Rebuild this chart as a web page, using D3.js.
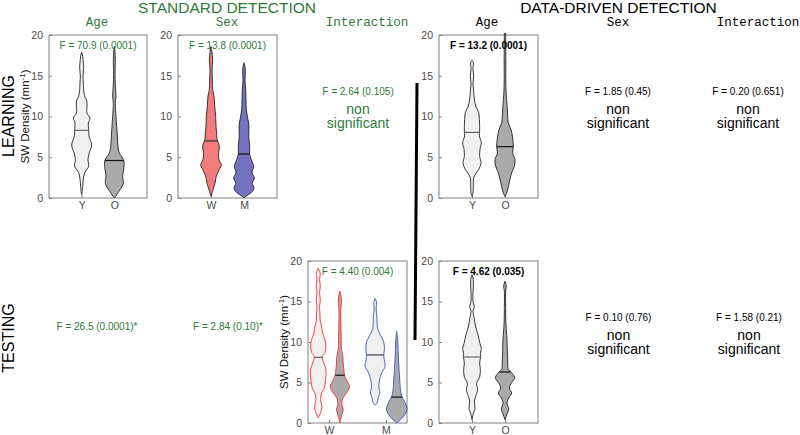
<!DOCTYPE html>
<html><head><meta charset="utf-8">
<script src="https://cdn.jsdelivr.net/npm/d3@7"></script>
<style>body{margin:0;background:#fff;}svg{display:block;font-family:"Liberation Sans",Arial,Helvetica,sans-serif;}</style>
</head><body>
<svg id="chart" width="800" height="435"></svg>
<script>
// ---------- DATA ----------
const yTicks = [0, 5, 10, 15, 20];
const ageCats = ["Y", "O"];
const sexCats = ["W", "M"];
// violin profiles: [SW density value, relative kernel density]
const lsAgeY = [[17.9,0],[17.4,6],[16.6,10],[16.0,12],[15.0,8],[14.1,10],[12.9,14],[12.3,22],[12.0,30],[11.3,32],[10.4,32],[9.8,50],[9.2,40],[8.4,42],[7.6,44],[6.5,60],[5.5,45],[4.7,38],[3.9,42],[3.1,18],[2.3,10],[1.4,6],[0.6,2],[0.4,0]];
const lsAgeO = [[18.6,0],[18.2,3],[16.6,6],[15.0,4],[13.3,8],[12.5,10],[11.6,6],[10.0,10],[8.8,14],[7.6,18],[6.3,22],[5.5,30],[4.9,50],[4.5,58],[3.5,56],[2.7,50],[1.8,54],[1.2,40],[0.6,20],[0.2,8],[0,0]];
const lsSexW = [[18.6,0],[18.0,5],[16.9,10],[15.8,6],[14.6,8],[13.3,10],[12.5,18],[11.3,22],[10.0,28],[8.8,30],[8.0,34],[7.2,36],[6.4,50],[5.6,46],[4.7,48],[4.1,62],[3.5,50],[2.7,32],[1.8,24],[1.0,12],[0.2,0]];
const lsSexM = [[16.6,0],[15.8,8],[14.5,6],[13.3,10],[12.1,12],[10.8,14],[9.6,24],[8.8,30],[7.6,28],[6.5,34],[5.4,34],[4.7,44],[3.9,58],[3.1,48],[2.5,62],[1.8,50],[1.2,60],[0.6,40],[0.2,10],[0,0]];
const ldAgeY = [[16.9,0],[16.6,8],[15.8,6],[15.0,10],[14.1,6],[13.1,10],[12.1,14],[11.3,22],[10.5,40],[9.6,44],[8.8,46],[8.2,46],[7.6,44],[6.8,56],[6.0,48],[5.1,46],[4.3,54],[3.5,40],[3.1,26],[2.5,10],[1.7,8],[0.6,6],[0.2,0]];
const ldAgeO = [[20.2,4],[17.0,5],[14.0,5],[12.5,8],[10.8,14],[10.0,16],[9.2,20],[8.4,36],[7.6,44],[6.3,50],[5.5,46],[4.7,60],[3.9,56],[3.1,40],[2.3,30],[1.4,20],[0.6,10],[0.2,0]];
const tiWY = [[19.1,0],[18.5,12],[17.7,8],[16.9,12],[16.1,8],[15.2,12],[14.4,8],[13.6,10],[12.6,12],[11.9,20],[11.1,26],[10.3,40],[9.5,46],[8.7,40],[8.2,24],[7.6,30],[6.6,46],[5.3,44],[4.3,36],[3.7,20],[2.9,14],[2.0,22],[1.4,16],[0.8,4],[0.6,0]];
const tiWO = [[16.3,0],[15.7,6],[14.9,10],[14.1,6],[12.3,6],[10.7,8],[9.1,10],[8.2,18],[7.4,20],[6.6,24],[5.9,28],[5.3,40],[4.5,58],[3.7,40],[3.1,18],[2.3,12],[1.7,20],[1.0,12],[0.4,4],[0,0]];
const tiMY = [[15.4,0],[14.9,8],[14.1,6],[13.2,10],[12.3,12],[11.7,14],[10.9,30],[10.1,50],[9.3,56],[8.4,52],[7.6,56],[7.0,60],[6.2,40],[5.3,26],[4.5,22],[3.7,28],[3.1,18],[2.5,12],[2.2,0]];
const tiMO = [[11.3,0],[10.3,6],[9.1,8],[7.9,10],[6.6,14],[5.3,18],[4.1,22],[3.3,30],[2.5,50],[1.7,62],[0.9,44],[0.2,12],[0,0]];
const tdAgeY = [[18.3,0],[17.9,6],[16.9,8],[16.1,6],[15.0,6],[14.4,14],[13.8,6],[13.0,12],[12.3,18],[11.7,24],[10.9,36],[9.8,48],[9.2,56],[8.6,50],[8.2,52],[7.4,46],[6.6,50],[5.7,46],[4.9,28],[4.1,34],[3.3,22],[2.7,14],[1.8,18],[1.2,8],[0.6,2],[0.4,0]];
const tdAgeO = [[17.5,0],[16.9,8],[16.3,4],[14.0,4],[12.5,5],[11.5,8],[10.3,12],[9.1,14],[7.9,16],[6.6,20],[6.4,30],[5.6,58],[5.0,40],[4.3,26],[3.7,40],[3.1,22],[2.5,12],[1.7,22],[1.0,10],[0.4,0]];
// medians
const lsAgeMedians = [8.3, 4.6];
const lsSexMedians = [7.0, 5.4];
const ldAgeMedians = [8.05, 6.3];
const tiMedians = [8.1, 5.9, 8.4, 3.2];
const tdAgeMedians = [8.15, 6.3];
// statistics text
const learnStats = ["F = 70.9 (0.0001)", "F = 13.8 (0.0001)", "F = 2.64 (0.105)", "F = 13.2 (0.0001)", "F = 1.85 (0.45)", "F = 0.20 (0.651)"];
const testStats = ["F = 26.5 (0.0001)*", "F = 2.84 (0.10)*", "F = 4.40 (0.004)", "F = 4.62 (0.035)", "F = 0.10 (0.76)", "F = 1.58 (0.21)"];
const factorTitles = ["Age", "Sex", "Interaction"];

// ---------- STYLE ----------
const GREEN = "#2f7a3a";
const LIGHT = "#f0f0f0", DARK = "#aaaaaa", RED = "#f27b7b", BLUE = "#7373c0";
const svg = d3.select("#chart");
const widthScale = d3.scaleLinear().domain([0, 60]).range([0, 10]);

function interpW(profile, v) {
  for (let i = 0; i < profile.length - 1; i++) {
    const a = profile[i], b = profile[i + 1];
    if ((v <= a[0] && v >= b[0])) {
      const t = (a[0] - v) / (a[0] - b[0]);
      return a[1] + t * (b[1] - a[1]);
    }
  }
  return 0;
}

function panel(cfg) {
  const g = svg.append("g");
  const y = d3.scaleLinear().domain([0, 20]).range([cfg.bottom, cfg.top]);
  const x = d3.scaleLinear().domain(cfg.xDomain).range([cfg.left, cfg.right]);
  g.append("rect").attr("x", cfg.left).attr("y", cfg.top)
    .attr("width", cfg.right - cfg.left).attr("height", cfg.bottom - cfg.top)
    .attr("fill", "none").attr("stroke", "#808080").attr("stroke-width", 1);
  const ya = g.append("g").attr("transform", `translate(${cfg.left},0)`)
    .call(d3.axisLeft(y).tickValues(yTicks).tickSize(-3).tickPadding(6));
  const xa = g.append("g").attr("transform", `translate(0,${cfg.bottom})`)
    .call(d3.axisBottom(x).tickValues(cfg.xTicks).tickFormat((d, i) => cfg.xLabels[i]).tickSize(-3).tickPadding(3.5));
  [ya, xa].forEach(a => {
    a.select(".domain").remove();
    a.selectAll("line").attr("stroke", "#808080");
    a.selectAll("text").attr("font-size", 10.5).attr("fill", "#4a4a4a")
      .attr("font-family", '"Liberation Sans",Arial,sans-serif');
  });
  cfg.violins.forEach((vd, i) => {
    const cx = x(vd.pos);
    const area = d3.area()
      .y(d => y(d[0]))
      .x0(d => cx - widthScale(d[1]))
      .x1(d => cx + widthScale(d[1]))
      .curve(d3.curveCatmullRom.alpha(0.5));
    g.append("path").datum(vd.profile).attr("d", area)
      .attr("fill", vd.fill).attr("stroke", vd.stroke).attr("stroke-width", 0.9);
    const hw = widthScale(interpW(vd.profile, vd.median));
    g.append("line").attr("x1", cx - hw).attr("x2", cx + hw)
      .attr("y1", y(vd.median)).attr("y2", y(vd.median))
      .attr("stroke", vd.medColor).attr("stroke-width", 1.2);
  });
  g.append("text").attr("x", (cfg.left + cfg.right) / 2 + (cfg.statDx || 0)).attr("y", cfg.top + 14)
    .attr("text-anchor", "middle").attr("font-size", 10)
    .attr("font-weight", cfg.bold ? "bold" : "normal")
    .attr("fill", cfg.statColor).text(cfg.stat);
  if (cfg.ylabel) {
    const t = g.append("text")
      .attr("transform", `translate(${cfg.left - 20},${(cfg.top + cfg.bottom) / 2}) rotate(-90)`)
      .attr("text-anchor", "middle").attr("font-size", 11.5).attr("fill", "#111");
    t.append("tspan").text("SW Density (mn");
    t.append("tspan").attr("font-size", 8).attr("dy", -4.5).text("-1");
    t.append("tspan").attr("dy", 4.5).text(")");
  }
}

// Learning, standard Age
panel({left: 49, right: 147, top: 35, bottom: 198, xDomain: [0, 3], xTicks: [1, 2], xLabels: ageCats,
  violins: [
    {pos: 1, profile: lsAgeY, fill: LIGHT, stroke: "#222", median: lsAgeMedians[0], medColor: "#666"},
    {pos: 2, profile: lsAgeO, fill: DARK, stroke: "#222", median: lsAgeMedians[1], medColor: "#111"}],
  stat: learnStats[0], statColor: GREEN, ylabel: true});
// Learning, standard Sex
panel({left: 178, right: 277, top: 35, bottom: 198, xDomain: [0, 3], xTicks: [1, 2], xLabels: sexCats,
  violins: [
    {pos: 1, profile: lsSexW, fill: RED, stroke: "#222", median: lsSexMedians[0], medColor: "#333"},
    {pos: 2, profile: lsSexM, fill: BLUE, stroke: "#222", median: lsSexMedians[1], medColor: "#111"}],
  stat: learnStats[1], statColor: GREEN});
// Learning, data-driven Age
panel({left: 439, right: 538, top: 35, bottom: 198, xDomain: [0, 3], xTicks: [1, 2], xLabels: ageCats,
  violins: [
    {pos: 1, profile: ldAgeY, fill: LIGHT, stroke: "#222", median: ldAgeMedians[0], medColor: "#666"},
    {pos: 2, profile: ldAgeO, fill: DARK, stroke: "#222", median: ldAgeMedians[1], medColor: "#111"}],
  stat: learnStats[3], statColor: "#000", bold: true});
// Testing, standard Interaction
panel({left: 308, right: 407, top: 261, bottom: 423, xDomain: [0.63, 2.37], xTicks: [1, 2], xLabels: sexCats,
  violins: [
    {pos: 0.81, profile: tiWY, fill: LIGHT, stroke: "#ff2a2a", median: tiMedians[0], medColor: "#666"},
    {pos: 1.19, profile: tiWO, fill: DARK, stroke: "#ff2a2a", median: tiMedians[1], medColor: "#111"},
    {pos: 1.81, profile: tiMY, fill: LIGHT, stroke: "#3a56c0", median: tiMedians[2], medColor: "#444"},
    {pos: 2.19, profile: tiMO, fill: DARK, stroke: "#3a56c0", median: tiMedians[3], medColor: "#111"}],
  stat: testStats[2], statColor: GREEN, ylabel: true});
// Testing, data-driven Age
panel({left: 439, right: 538, top: 261, bottom: 423, xDomain: [0, 3], xTicks: [1, 2], xLabels: ageCats,
  violins: [
    {pos: 1, profile: tdAgeY, fill: LIGHT, stroke: "#222", median: tdAgeMedians[0], medColor: "#666"},
    {pos: 2, profile: tdAgeO, fill: DARK, stroke: "#222", median: tdAgeMedians[1], medColor: "#111"}],
  stat: testStats[3], statColor: "#000", bold: true});

// ---------- TITLES & TEXT ----------
function txt(x, y, s, size, color, opts = {}) {
  const t = svg.append("text").attr("x", x).attr("y", y).attr("text-anchor", "middle")
    .attr("font-size", size).attr("fill", color).text(s);
  if (opts.mono) t.attr("font-family", '"Liberation Mono","Courier New",monospace');
  if (opts.rotate) t.attr("transform", `rotate(-90,${x},${y})`);
  return t;
}
txt(227, 12.5, "STANDARD DETECTION", 15.5, GREEN);
txt(618.5, 12.5, "DATA-DRIVEN DETECTION", 15.5, "#000");
const stdCols = [97, 227, 367], ddCols = [487, 618, 758];
factorTitles.forEach((f, i) => {
  txt(stdCols[i], 26, f, 12.5, GREEN, {mono: true});
  txt(ddCols[i], 26, f, 12.5, "#000", {mono: true});
});
txt(13.5, 116, "LEARNING", 16, "#000", {rotate: true});
txt(13.5, 338, "TESTING", 16, "#000", {rotate: true});

// non-significant blocks
function nonsig(x, yF, stat, color) {
  txt(x, yF, stat, 10, color);
  txt(x, yF + 19, "non", 14, color);
  txt(x, yF + 33, "significant", 14, color);
}
nonsig(358, 95, learnStats[2], GREEN);
nonsig(618, 95, learnStats[4], "#000");
nonsig(748, 95, learnStats[5], "#000");
nonsig(618.5, 321, testStats[4], "#000");
nonsig(749, 321, testStats[5], "#000");
txt(97, 329.5, testStats[0], 10, GREEN);
txt(228, 329.5, testStats[1], 10, GREEN);

// separator bar
svg.append("line").attr("x1", 417).attr("y1", 83).attr("x2", 415).attr("y2", 340)
  .attr("stroke", "#000").attr("stroke-width", 3);
</script>
</body></html>
